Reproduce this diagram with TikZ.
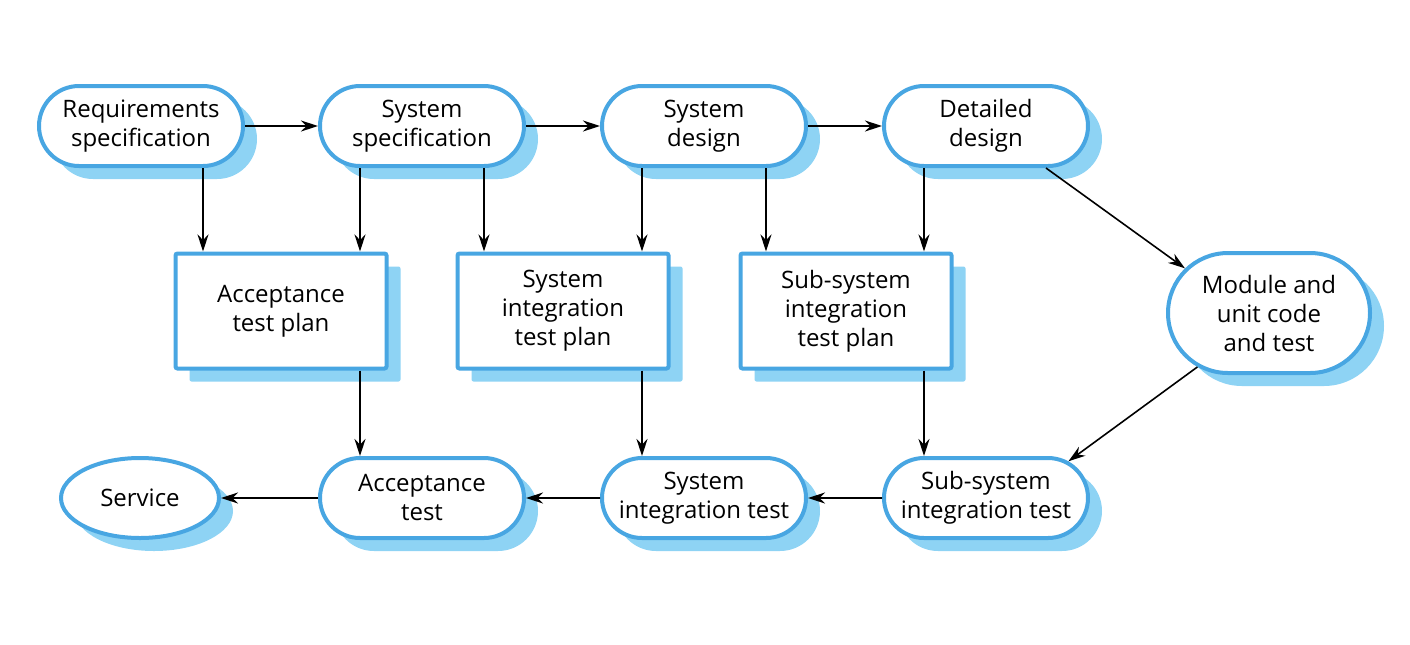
\documentclass[tikz,border=0pt]{standalone}
\usepackage{fontspec}
\setmainfont{Open Sans}
\usetikzlibrary{shapes.misc,shapes.geometric,shadows,arrows.meta}

\definecolor{edgeblue}{RGB}{72,166,226}
\definecolor{shadeblue}{RGB}{142,211,244}

\begin{document}
\begin{tikzpicture}[x=0.5pt,y=-0.5pt,
    % --- Styles ---
    base node/.style={draw=edgeblue, line width=2pt, fill=white, align=center,
        font=\fontsize{12}{14.5}\selectfont,
        general shadow={fill=shadeblue, shadow xshift=7pt, shadow yshift=-6.5pt}},
    % Rounded phases (top and bottom rows)
    phase node/.style={base node, rounded rectangle, minimum width=106pt, minimum height=40pt, inner sep=2pt},
    % Square test plans
    plan node/.style={base node, rectangle, rounded corners=1pt, minimum width=105.5pt, minimum height=57.5pt},
    end node/.style={base node, ellipse, minimum width=79pt, minimum height=40pt, inner sep=1pt},
    flow line/.style={draw=black, line width=0.8pt, -{Stealth[length=8.5pt,width=5.5pt]}}
]

%================CONFIGURATION================
% \tap: sideways offset of the down arrows
\def\tap{31pt}
%=============================================

\useasboundingbox (0,0) rectangle (1410,644);

% --- 1. Top row: specification and design ---
\node[phase node] (req)   at (141,126) {Requirements\\specification};
\node[phase node] (sspec) at (422,126) {System\\specification};
\node[phase node] (sdes)  at (704,126) {System\\design};
\node[phase node] (ddes)  at (986,126) {Detailed\\design};

% --- 2. Middle row: test plans ---
\node[plan node] (atp)   at (281,311) {Acceptance\\test plan};
\node[plan node] (sitp)  at (563,311) {System\\integration\\test plan};
\node[plan node] (ssitp) at (846,311) {Sub-system\\integration\\test plan};
\node[phase node, minimum width=105pt, minimum height=60pt] (mod) at (1269,313)
    {Module and\\unit code\\and test};

% --- 3. Bottom row: testing ---
\node[end node]   (serv)  at (140,498) {Service};
\node[phase node] (acct)  at (422,498) {Acceptance\\test};
\node[phase node] (sit)   at (704,498) {System\\integration test};
\node[phase node] (ssit)  at (986,498) {Sub-system\\integration test};

% --- 4. Connectors ---
\draw[flow line] (req) -- (sspec);
\draw[flow line] (sspec) -- (sdes);
\draw[flow line] (sdes) -- (ddes);

\draw[flow line] ([xshift=\tap]req.south) -- ([xshift=\tap]req.south |- atp.north);
\draw[flow line] ([xshift=-\tap]sspec.south) -- ([xshift=-\tap]sspec.south |- atp.north);
\draw[flow line] ([xshift=\tap]sspec.south) -- ([xshift=\tap]sspec.south |- sitp.north);
\draw[flow line] ([xshift=-\tap]sdes.south) -- ([xshift=-\tap]sdes.south |- sitp.north);
\draw[flow line] ([xshift=\tap]sdes.south) -- ([xshift=\tap]sdes.south |- ssitp.north);
\draw[flow line] ([xshift=-\tap]ddes.south) -- ([xshift=-\tap]ddes.south |- ssitp.north);

\draw[flow line] (ddes.325) -- (mod.152);
\draw[flow line] (mod.217) -- (ssit.24);

\draw[flow line] ([xshift=-\tap]acct.north |- atp.south) -- ([xshift=-\tap]acct.north);
\draw[flow line] ([xshift=-\tap]sit.north |- sitp.south) -- ([xshift=-\tap]sit.north);
\draw[flow line] ([xshift=-\tap]ssit.north |- ssitp.south) -- ([xshift=-\tap]ssit.north);

\draw[flow line] (ssit) -- (sit);
\draw[flow line] (sit) -- (acct);
\draw[flow line] (acct) -- (serv);

\end{tikzpicture}
\end{document}
